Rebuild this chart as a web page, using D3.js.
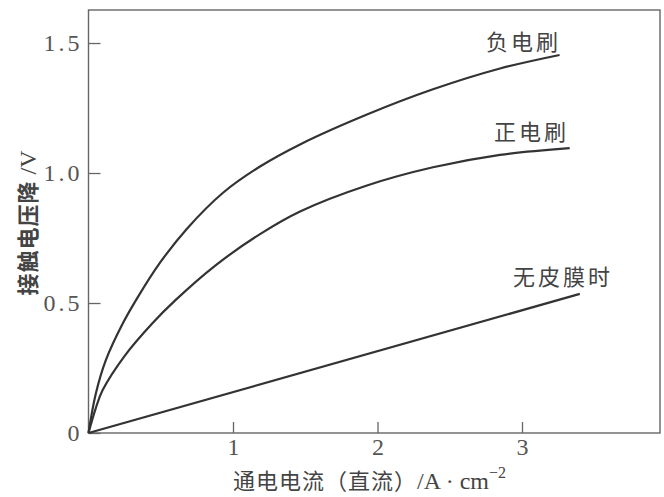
<!DOCTYPE html>
<html><head><meta charset="utf-8">
<script src="https://cdn.jsdelivr.net/npm/d3@7"></script>
<style>body{margin:0;background:#fff}</style>
</head><body>
<svg id="c" width="664" height="497"></svg>
<script>
const negX = [0, 0.05, 0.12, 0.236, 0.333, 0.495, 0.68, 0.933, 1.187, 1.464, 1.927, 2.384, 2.848, 3.26];
const negY = [0, 0.15, 0.28, 0.42, 0.515, 0.655, 0.785, 0.925, 1.025, 1.11, 1.225, 1.322, 1.402, 1.454];
const posX = [0, 0.05, 0.098, 0.248, 0.444, 0.6, 0.875, 1.187, 1.464, 1.927, 2.384, 2.848, 3.33];
const posY = [0, 0.095, 0.165, 0.295, 0.423, 0.51, 0.643, 0.765, 0.852, 0.952, 1.022, 1.07, 1.096];
const noFilmX = [0, 3.4];
const noFilmY = [0, 0.535];
const seriesNames = ["负电刷", "正电刷", "无皮膜时"];
const xTicks = [1, 2, 3];
const yTicks = [0, 0.5, 1.0, 1.5];
const yTickLabels = ["0", "0.5", "1.0", "1.5"];

const svg = d3.select("#c");
const L = 88.5, T = 10, R = 660, B = 433;
const x = d3.scaleLinear().domain([0, 3.955]).range([L, R]);
const y = d3.scaleLinear().domain([0, 1.627]).range([B, T]);
const axisCol = "#666", lineCol = "#333", textCol = "#444";
const serif = "'Liberation Serif', serif";

svg.append("rect").attr("x", L).attr("y", T).attr("width", R - L).attr("height", B - T)
  .attr("fill", "none").attr("stroke", axisCol).attr("stroke-width", 1.4);

const xa = svg.append("g").attr("transform", `translate(0,${B})`)
  .call(d3.axisBottom(x).tickValues(xTicks).tickSize(-11).tickPadding(5).tickFormat(d3.format("d")));
xa.select(".domain").remove();
const ya = svg.append("g").attr("transform", `translate(${L},0)`)
  .call(d3.axisLeft(y).tickValues(yTicks).tickSize(-12).tickPadding(6).tickFormat((d, i) => yTickLabels[i]));
ya.select(".domain").remove();
svg.selectAll(".tick line").attr("stroke", axisCol).attr("stroke-width", 1.3);
svg.selectAll(".tick text").attr("font-family", serif).attr("font-size", 24).attr("fill", "#555");
ya.selectAll(".tick text").attr("x", -6).attr("letter-spacing", 3);

const line = d3.line().x(d => x(d[0])).y(d => y(d[1])).curve(d3.curveCatmullRom.alpha(0.5));
const series = [[negX, negY], [posX, posY], [noFilmX, noFilmY]];
series.forEach(([xs, ys]) => {
  svg.append("path").datum(xs.map((v, i) => [v, ys[i]])).attr("d", line)
    .attr("fill", "none").attr("stroke", lineCol).attr("stroke-width", 2.2);
});

const cjk = "'Noto Sans CJK SC', sans-serif";
const labelPos = [[561, 50], [569, 140], [613, 285]];
seriesNames.forEach((n, i) => {
  svg.append("text").attr("x", labelPos[i][0]).attr("y", labelPos[i][1]).attr("text-anchor", "end")
    .attr("font-family", cjk).attr("font-size", 22).attr("letter-spacing", 3).attr("fill", textCol).text(n);
});

const xt = svg.append("text").attr("x", 233).attr("y", 489).attr("font-family", cjk)
  .attr("font-size", 22).attr("fill", textCol);
xt.append("tspan").attr("letter-spacing", 1).text("通电电流（直流）");
xt.append("tspan").attr("font-family", serif).attr("font-size", 24).text("/A · cm");
xt.append("tspan").attr("font-family", serif).attr("font-size", 16).attr("dy", -11).text("−2");

const yt = svg.append("text").attr("transform", "translate(36,223) rotate(-90)").attr("text-anchor", "middle")
  .attr("font-family", cjk).attr("font-size", 22).attr("font-weight", "bold").attr("fill", textCol);
yt.append("tspan").attr("letter-spacing", 1).text("接触电压降");
yt.append("tspan").attr("font-family", serif).attr("font-weight", "normal").attr("font-size", 24).text(" /V");
</script>
</body></html>
